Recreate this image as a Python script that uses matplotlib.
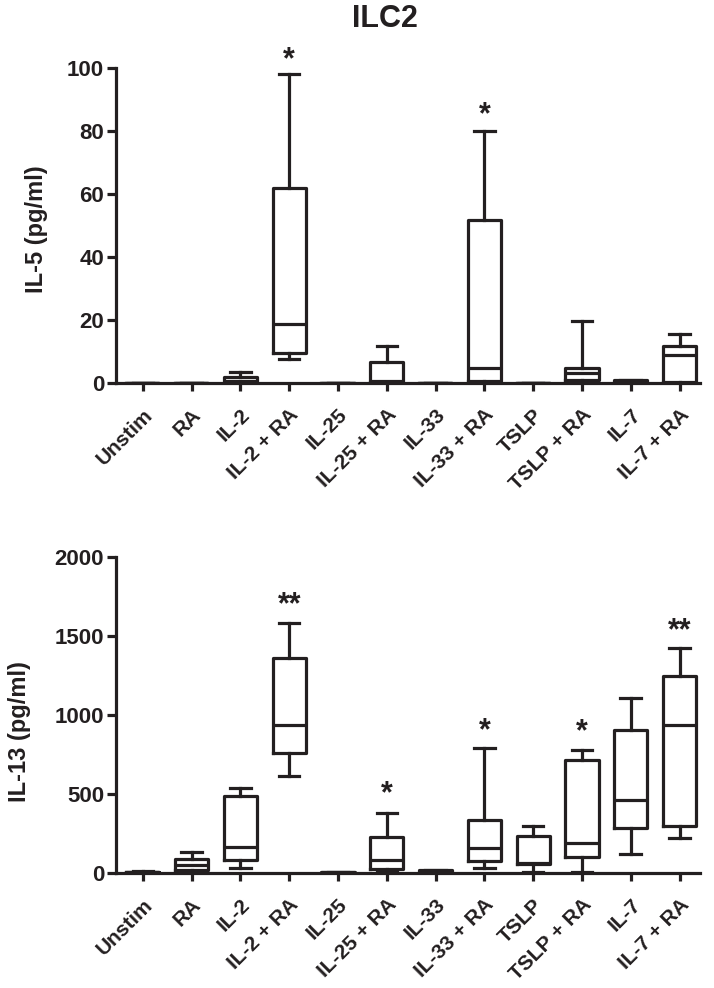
import matplotlib
matplotlib.use("Agg")
import matplotlib.pyplot as plt

plt.rcParams['font.family'] = ['Liberation Sans', 'DejaVu Sans']
plt.rcParams['font.weight'] = 'bold'

categories = ["Unstim", "RA", "IL-2", "IL-2 + RA", "IL-25", "IL-25 + RA",
              "IL-33", "IL-33 + RA", "TSLP", "TSLP + RA", "IL-7", "IL-7 + RA"]

# IL-5 (pg/ml) box statistics
il5_whislo = [0, 0, 0, 7.6, 0, 0, 0, 0.3, 0, 0.3, 0, 0]
il5_q1     = [0, 0, 0, 9.6, 0, 0.2, 0, 0.7, 0, 0.8, 0, 0.2]
il5_med    = [0, 0, 0.5, 18.6, 0, 0.7, 0, 4.7, 0, 3.2, 0.4, 8.8]
il5_q3     = [0, 0, 1.8, 62, 0, 6.7, 0, 51.7, 0, 4.8, 0.9, 11.9]
il5_whishi = [0, 0, 3.6, 98, 0, 11.7, 0, 79.9, 0, 19.7, 1.0, 15.7]
il5_sig    = ["", "", "", "*", "", "", "", "*", "", "", "", ""]
il5_sig_y  = [0, 0, 0, 104.5, 0, 0, 0, 87, 0, 0, 0, 0]

# IL-13 (pg/ml) box statistics
il13_whislo = [3, 0, 32, 611, 2, 10, 0, 32, 5, 5, 118, 223]
il13_q1     = [5, 17, 84, 757, 3, 25, 3, 74, 55, 101, 282, 299]
il13_med    = [7, 53, 165, 934, 4, 80, 9, 158, 62, 187, 459, 934]
il13_q3     = [9, 89, 489, 1358, 5, 225, 18, 337, 236, 713, 907, 1244]
il13_whishi = [11, 130, 536, 1584, 6, 377, 22, 789, 295, 776, 1107, 1424]
il13_sig    = ["", "", "", "**", "", "*", "", "*", "", "*", "", "**"]
il13_sig_y  = [0, 0, 0, 1730, 0, 534, 0, 938, 0, 926, 0, 1568]

W, H = 714, 988
fig = plt.figure(figsize=(W / 100, H / 100), dpi=100)

ink = '#231f20'
lw = 2.3


def fx(px):
    return px / W


def fy(py):
    return 1 - py / H


def panel(rect, lo, q1, med, q3, hi, sig, sig_y, ylim, yticks, sig_fs):
    ax = fig.add_axes(rect)
    stats = []
    for i in range(len(categories)):
        stats.append(dict(whislo=lo[i], q1=q1[i], med=med[i], q3=q3[i],
                          whishi=hi[i], label=categories[i]))
    ax.bxp(stats, positions=range(len(categories)), widths=0.68,
           showfliers=False, patch_artist=False,
           boxprops=dict(color=ink, linewidth=lw),
           medianprops=dict(color=ink, linewidth=lw),
           whiskerprops=dict(color=ink, linewidth=lw),
           capprops=dict(color=ink, linewidth=lw),
           capwidths=0.42, manage_ticks=False)
    for i, s in enumerate(sig):
        if s:
            ax.annotate(s, (i, sig_y[i]), xytext=(0, -6),
                        textcoords='offset pixels', ha='center', va='center',
                        fontsize=sig_fs, color=ink, fontweight='bold',
                        annotation_clip=False)
    ax.set_xlim(-0.55, 11.42)
    ax.set_ylim(*ylim)
    ax.set_yticks(yticks)
    ax.set_yticklabels([str(t) for t in yticks], fontsize=16,
                       fontweight='bold', color=ink)
    ax.set_xticks(range(len(categories)))
    ax.set_xticklabels(categories, rotation=45, ha='right',
                       rotation_mode='anchor', fontsize=15,
                       fontweight='bold', color=ink)
    for side in ['top', 'right']:
        ax.spines[side].set_visible(False)
    for side in ['left', 'bottom']:
        ax.spines[side].set_linewidth(lw)
        ax.spines[side].set_color(ink)
    ax.tick_params(axis='y', length=6.5, width=lw, color=ink, pad=2)
    ax.tick_params(axis='x', length=6, width=lw, color=ink, pad=10)
    return ax


ax1 = panel([fx(116), fy(383), fx(700) - fx(116), fy(68) - fy(383)],
            il5_whislo, il5_q1, il5_med, il5_q3, il5_whishi,
            il5_sig, il5_sig_y, (0, 100), [0, 20, 40, 60, 80, 100], 22)
ax2 = panel([fx(116), fy(873), fx(700) - fx(116), fy(557) - fy(873)],
            il13_whislo, il13_q1, il13_med, il13_q3, il13_whishi,
            il13_sig, il13_sig_y, (0, 2000), [0, 500, 1000, 1500, 2000], 22)

fig.text(fx(385), fy(19), "ILC2", ha='center', va='center', fontsize=22,
         fontweight='bold', color=ink)
fig.text(fx(36), fy(229), "IL-5 (pg/ml)", ha='center', va='center',
         rotation=90, fontsize=17, fontweight='bold', color=ink)
fig.text(fx(20), fy(732), "IL-13 (pg/ml)", ha='center', va='center',
         rotation=90, fontsize=17, fontweight='bold', color=ink)

fig.savefig("out.png", dpi=100)
